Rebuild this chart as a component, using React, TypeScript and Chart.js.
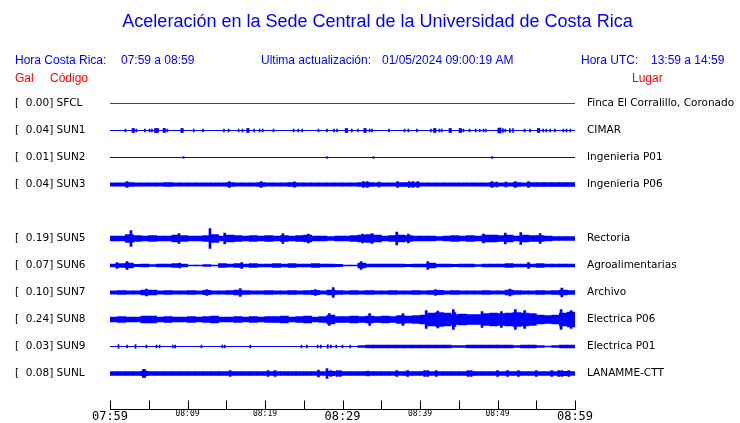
import React, { useEffect, useRef } from 'react';
import { Chart, registerables } from 'chart.js';

Chart.register(...registerables);

// ---------- text ----------
const TITLE = 'Aceleración en la Sede Central de la Universidad de Costa Rica';
const localTime = ['Hora Costa Rica:', '07:59 a 08:59'];
const lastUpdate = ['Ultima actualización:', '01/05/2024 09:00:19 AM'];
const utcTime = ['Hora UTC:', '13:59 a 14:59'];
const columnHeads = ['Gal', 'Código', 'Lugar'];

// ---------- stations (row order, SUN4 slot empty) ----------
const codes = ['SFCL', 'SUN1', 'SUN2', 'SUN3', '', 'SUN5', 'SUN6', 'SUN7', 'SUN8', 'SUN9', 'SUNL'];
const peakGal = [0.0, 0.04, 0.01, 0.04, null, 0.19, 0.07, 0.1, 0.24, 0.03, 0.08];
const places = [
  'Finca El Corralillo, Coronado', 'CIMAR', 'Ingenieria P01', 'Ingenieria P06', '',
  'Rectoria', 'Agroalimentarias', 'Archivo', 'Electrica P06', 'Electrica P01', 'LANAMME-CTT',
];

// ---------- time axis (minutes after 07:59) ----------
const timeLabels = ['07:59', '08:09', '08:19', '08:29', '08:39', '08:49', '08:59'];
const TOTAL_MIN = 60;

// ---------- per-minute envelope half-amplitudes (trace units) ----------
const envSUN3 = [1.7,1.7,1.8,1.7,1.7,1.7,1.7,1.8,1.7,1.7, 1.7,1.7,1.7,1.7,1.7,1.8,1.7,1.7,1.7,1.8, 1.7,1.7,1.7,1.8,1.7,1.7,1.7,1.7,1.7,1.7, 1.7,1.7,1.8,1.8,1.7,1.7,1.7,1.8,1.8,1.8, 1.7,1.7,1.7,1.7,1.7,1.7,1.7,1.7,1.7,1.8, 1.7,1.7,1.8,1.7,1.8,1.9,2.0,2.0,2.0,2.0];
const envSUN5 = [2.5,2.5,4,3,2.5,3,2.5,2.5,3.5,3, 2.5,2.5,3,4,2.5,3.5,3,2.5,3,2.5, 3,2.5,3,2.5,3,3.5,2.5,2.5,2,2.5, 2.5,3,3.5,4,3.5,2.5,3,3.5,3,2.5, 2.5,2.5,2,2.5,3,2.5,3,2.5,3.5,3.5, 3,3.5,2.5,3.5,3,3,2.5,2,2,2];
const envSUN6 = [1.5,1.8,2.5,1.2,1.5,0.8,1.5,1.5,1.8,1.5, 0.5,0.5,0.8,0.5,1.8,1.5,1.8,1.5,1.8,1.5, 1.5,1.8,1.5,1.8,1.5,1.5,1.8,1.5,1.5,1.2, 0.5,0.5,2.5,1.5,1.5,1.5,1.5,1.5,1.2,1.5, 1.5,2.5,1.5,1.5,1.2,1.5,1.5,0.8,1.5,1.5, 1.5,1.8,1.5,1.5,1.5,1.8,1.5,1.5,1.5,1.5];
const envSUN7 = [1.7,1.8,1.7,1.7,2.5,2.5,1.7,1.8,1.7,1.7, 1.8,1.7,2.2,1.7,1.7,1.8,2.5,1.8,1.7,1.7, 1.8,1.7,1.7,1.8,1.7,1.8,2.2,1.7,2.5,1.8, 1.7,1.8,1.7,1.8,1.7,1.7,1.8,1.7,1.7,1.8, 1.7,1.8,2.2,1.7,1.8,1.7,1.7,1.7,1.8,1.7, 1.7,2.5,1.8,1.7,1.7,1.8,1.7,1.8,2.5,1.8];
const envSUN8 = [2.5,3,2.5,2.5,3.5,3.5,2.5,3,2.5,2.5, 3,2.5,3,3.5,2.5,2.5,3,2.5,3,2.5, 3,3,3.5,2.5,3,3.5,2.5,3,4.5,3, 3,3.5,3,3.5,3,3.5,3,4,3.5,4, 4.5,6.5,7,6.5,5,5.5,5,5,6,6.5, 6,6.5,7,6.5,6,4.5,4,4.5,6.5,7.5];
const envSUN9 = [0,0,0,0,0,0,0,0,0,0, 0,0,0,0,0,0,0,0,0,0, 0,0,0,0,0,0,0,0,0,0, 0,0,1.0,1.3,1.3,1.3,1.3,1.3,1.3,1.3, 1.3,1.3,1.3,1.3,1.0,0.8,1.3,1.3,1.3,1.3, 1.3,1.3,1.0,1.3,1.3,1.0,0.5,0.8,1.3,1.3];
const envSUNL = [2,2,2,2,2.2,2,2,2,2,2, 2,2,2,2,2,2,2,2,2,2, 2,2,2,2,2,2,2,2,2.2,2, 2,2,2,2,2,2,2,2,2,2, 2,2,2,2,2,2,2,2,2,2, 2,2,2,2,2,2,2,2,2.2,2];

// ---------- isolated spikes: [minute, half-amplitude] ----------
const spkSUN1 = [[2.0,1.5],[2.9,2],[3.0,2],[3.1,2],[3.4,1.5],[4.5,1.5],[5.1,1.5],[5.4,1.5],[5.8,2],[5.9,2],[6.0,2],[6.1,2],[6.2,2],[6.9,2],[7.0,2],[7.1,2],[7.4,1.5],[9.2,2],[9.3,2],[9.4,2],[10.8,1.5],[12.0,1.5],[14.7,1.5],[15.3,1.5],[16.6,1.5],[17.1,1.5],[17.7,2],[17.8,2],[17.9,2],[18.6,1.5],[19.3,1.5],[19.7,1.5],[21.1,1.5],[23.7,1.5],[24.3,1.5],[24.8,1.5],[26.9,1.5],[28.0,1.5],[28.9,1.5],[29.3,1.5],[30.4,2],[30.5,2],[30.6,2],[31.2,1.5],[32.0,1.5],[32.8,2],[32.9,2],[33.0,2],[33.5,1.5],[33.8,1.5],[36.0,1.5],[38.0,1.5],[38.5,1.5],[39.6,1.5],[41.4,1.5],[41.8,2],[41.9,2],[42.0,2],[42.5,1.5],[42.8,1.5],[43.8,2],[43.9,2],[44.0,2],[45.1,2],[45.2,2],[45.3,2],[45.6,1.5],[46.4,1.5],[47.2,1.5],[47.7,1.5],[48.2,1.5],[48.5,1.5],[50.1,2.5],[50.3,2.5],[50.4,2.5],[50.7,2],[51.0,1.5],[51.6,2],[52.0,2],[53.5,1.5],[54.2,1.5],[55.2,2],[55.3,2],[55.4,2],[55.9,1.5],[56.3,1.5],[56.8,1.5],[57.4,1.5],[58.5,1.5],[58.9,1.5],[59.4,1.5]];
const spkSUN2 = [[9.5,1],[28.0,1],[34.0,1],[49.3,1]];
const spkSUN3 = [[2.2,3],[15.4,3],[19.5,3],[23.8,2.7],[32.7,3],[33.2,3],[34.7,2.5],[37.1,3],[38.6,3],[39.1,3],[39.7,3],[49.3,3],[49.9,2.5],[51.1,2.5],[52.3,3],[54.0,3]];
const spkSUN5 = [[2.7,8],[8.9,5],[12.9,10],[14.8,5.5],[22.3,5],[25.6,4.5],[32.6,4.5],[33.8,5],[37.0,6.5],[38.5,4.5],[48.2,4.5],[51.0,5.5],[53.0,6],[55.5,5]];
const spkSUN6 = [[0.9,3],[2.2,4],[9.0,2.5],[17.0,3],[32.4,4],[41.0,4],[54.0,3]];
const spkSUN7 = [[4.7,3.5],[12.5,3],[16.8,4],[26.5,3],[28.8,5],[42.0,3],[51.6,3.5],[58.3,4.5]];
const spkSUN8 = [[28.3,6],[33.5,6],[37.8,6],[40.8,9],[42.3,8.5],[44.3,10],[44.5,7],[48.0,8],[50.5,8],[52.3,10],[53.5,9],[58.2,10],[59.5,9]];
const spkSUN9 = [[1.1,2],[2.2,1.5],[3.3,2],[4.7,1.5],[6.0,1.5],[6.4,1.5],[8.1,1.5],[8.4,1.5],[11.8,1.5],[14.5,1.5],[14.8,1.5],[18.1,1.5],[24.7,1.5],[25.4,1.5],[26.8,1.5],[27.2,1.5],[28.1,2],[28.5,1.5],[29.2,1.5],[30.0,1.5],[31.0,1.5]];
const spkSUNL = [[4.3,4],[4.5,4],[15.5,3],[20.4,3],[21.3,3],[26.9,3.5],[28.0,5],[28.5,3],[29.3,3],[29.7,3],[33.3,2.5],[37.0,3],[38.4,3],[40.6,3],[41.0,3],[42.1,3],[46.2,3],[46.6,3],[50.0,3],[51.3,3],[52.7,3],[55.0,3],[57.0,3],[57.9,3],[58.3,3],[59.2,3]];

const envelopes: Record<string, number[]> = {
  SUN3: envSUN3, SUN5: envSUN5, SUN6: envSUN6, SUN7: envSUN7,
  SUN8: envSUN8, SUN9: envSUN9, SUNL: envSUNL,
};
const spikes: Record<string, number[][]> = {
  SUN1: spkSUN1, SUN2: spkSUN2, SUN3: spkSUN3, SUN5: spkSUN5, SUN6: spkSUN6,
  SUN7: spkSUN7, SUN8: spkSUN8, SUN9: spkSUN9, SUNL: spkSUNL,
};

// ---------- styling ----------
const BLUE = '#0000ff';
const RED = '#ff0000';
const TRACE_UNITS_PER_ROW = 27;
const THIN_SPIKES = ['SUN1', 'SUN2', 'SUN9'];

function buildDatasets() {
  const ds: any[] = [];
  codes.forEach((code, row) => {
    if (!code) return;
    const color = code === 'SFCL' ? RED : BLUE;
    ds.push({
      type: 'line',
      data: [{ x: 0, y: row }, { x: TOTAL_MIN, y: row }],
      borderColor: color, borderWidth: 1, pointRadius: 0, yAxisID: 'y',
    });
    const env = envelopes[code];
    if (env) {
      ds.push({
        type: 'bar',
        data: env
          .map((a, i) => ({ x: i + 0.5, y: [row - a / TRACE_UNITS_PER_ROW, row + a / TRACE_UNITS_PER_ROW], a }))
          .filter((p) => p.a > 0),
        backgroundColor: color, barThickness: 8, grouped: false, yAxisID: 'y',
        categoryPercentage: 1, barPercentage: 1,
      });
    }
    const sp = spikes[code];
    if (sp) {
      ds.push({
        type: 'bar',
        data: sp.map(([t, a]) => ({ x: t, y: [row - a / TRACE_UNITS_PER_ROW, row + a / TRACE_UNITS_PER_ROW] })),
        backgroundColor: color, barThickness: THIN_SPIKES.includes(code) ? 1 : 2,
        grouped: false, yAxisID: 'y', categoryPercentage: 1, barPercentage: 1,
      });
    }
  });
  return ds;
}

const headerPlugin = {
  id: 'seismoHeader',
  afterDraw(chart: any) {
    const ctx = chart.ctx;
    ctx.save();
    ctx.textBaseline = 'middle';
    ctx.textAlign = 'left';
    ctx.font = '12px "Liberation Sans"';
    ctx.fillStyle = BLUE;
    ctx.fillText(localTime[0], 15, 61);
    ctx.fillText(localTime[1], 121, 61);
    ctx.fillText(lastUpdate[0], 261, 61);
    ctx.fillText(lastUpdate[1], 382, 61);
    ctx.fillText(utcTime[0], 581, 61);
    ctx.fillText(utcTime[1], 651, 61);
    ctx.fillStyle = RED;
    ctx.fillText(columnHeads[0], 15, 79);
    ctx.fillText(columnHeads[1], 50, 79);
    ctx.fillText(columnHeads[2], 632, 79);
    // upward tick marks on the time axis
    const xs = chart.scales.x;
    const bottom = chart.chartArea.bottom;
    ctx.strokeStyle = '#000';
    ctx.lineWidth = 1;
    for (let v = 0; v <= TOTAL_MIN; v += 5) {
      const px = Math.round(xs.getPixelForValue(v)) + 0.5;
      ctx.beginPath();
      ctx.moveTo(px, bottom - 9);
      ctx.lineTo(px, bottom);
      ctx.stroke();
    }
    ctx.restore();
  },
};

const rowTicks = (scale: any) => {
  scale.ticks = codes.map((_, i) => ({ value: i }));
};

export default function App() {
  const ref = useRef<HTMLCanvasElement | null>(null);
  useEffect(() => {
    if (!ref.current) return;
    const yCommon = {
      type: 'linear',
      reverse: true,
      min: -1,
      max: 11 + 1 / 3,
      border: { display: false },
      afterBuildTicks: rowTicks,
    };
    const labelFont = { family: 'DejaVu Sans', size: 10.5 };
    const chart: any = new Chart(ref.current, {
      type: 'bar',
      data: { datasets: buildDatasets() },
      options: {
        responsive: false,
        animation: false,
        devicePixelRatio: 1,
        layout: { padding: { left: 15, right: 0, top: 0, bottom: 0 } },
        plugins: {
          legend: { display: false },
          tooltip: { enabled: false },
          title: {
            display: true,
            text: TITLE,
            color: BLUE,
            font: { family: 'Liberation Sans', size: 18, weight: 'normal' },
            padding: { top: 11, bottom: 43.9 },
          },
        },
        scales: {
          x: {
            type: 'linear',
            min: 0,
            max: TOTAL_MIN,
            offset: false,
            grid: { display: false, drawTicks: false, offset: false },
            border: { display: true, color: '#000', width: 1 },
            ticks: {
              stepSize: 5,
              autoSkip: false,
              maxRotation: 0,
              padding: 0,
              color: '#000',
              callback: (v: any) => (Number(v) % 10 === 0 ? timeLabels[Number(v) / 10] : ''),
              font: (c: any) =>
                c.tick && c.tick.value % 30 === 0
                  ? { family: 'DejaVu Sans Mono', size: 12 }
                  : { family: 'DejaVu Sans Mono', size: 8 },
            },
            afterFit: (s: any) => { s.height = 13.5; },
          },
          y: {
            ...yCommon,
            position: 'left',
            grid: { display: false, drawTicks: false, tickLength: 0 },
            ticks: {
              autoSkip: false,
              crossAlign: 'far',
              padding: 0,
              color: '#000',
              font: labelFont,
              callback: (v: any) => {
                const i = Number(v);
                if (!codes[i]) return '';
                return `[  ${(peakGal[i] as number).toFixed(2)}] ${codes[i]}`;
              },
            },
            afterFit: (s: any) => { s.width = 95; },
          },
          y2: {
            ...yCommon,
            position: 'right',
            grid: { display: false, drawTicks: true, tickLength: 12 },
            ticks: {
              autoSkip: false,
              padding: 0,
              color: '#000',
              font: labelFont,
              callback: (v: any) => places[Number(v)] || '',
            },
            afterFit: (s: any) => { s.width = 165; },
          },
        },
      } as any,
      plugins: [headerPlugin],
    });
    return () => chart.destroy();
  }, []);
  return (
    <div style={{ position: 'absolute', left: 0, top: 0, width: 740, height: 423, background: '#fff' }}>
      <canvas ref={ref} width={740} height={423} style={{ display: 'block' }} />
    </div>
  );
}
